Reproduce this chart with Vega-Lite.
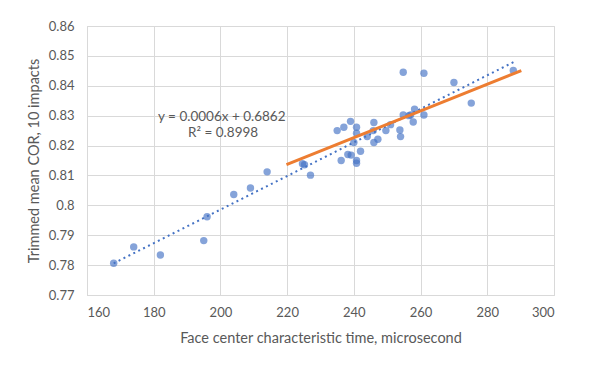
{
  "$schema": "https://vega.github.io/schema/vega-lite/v6.json",
  "width": 467,
  "height": 269,
  "autosize": {"type": "none"},
  "padding": {"left": 87, "top": 26, "right": 37, "bottom": 76},
  "background": "white",
  "config": {
    "font": "Lato",
    "view": {"stroke": "#d9d9d9", "strokeWidth": 1},
    "axis": {
      "labelFont": "Lato", "labelFontSize": 13, "labelColor": "#595959",
      "titleFont": "Lato", "titleFontSize": 14.5, "titleColor": "#595959", "titleFontWeight": "normal",
      "gridColor": "#d9d9d9", "gridWidth": 1, "domainColor": "#d9d9d9", "ticks": false
    }
  },
  "datasets": {
    "points": [
      {"time": 168.0, "cor": 0.7806}, {"time": 174.0, "cor": 0.7861}, {"time": 182.0, "cor": 0.7834},
      {"time": 195.0, "cor": 0.7882}, {"time": 196.0, "cor": 0.7962}, {"time": 204.0, "cor": 0.8036},
      {"time": 209.0, "cor": 0.8058}, {"time": 214.0, "cor": 0.8112}, {"time": 224.6, "cor": 0.8139},
      {"time": 225.2, "cor": 0.8136}, {"time": 227.0, "cor": 0.8101}, {"time": 235.0, "cor": 0.825},
      {"time": 236.2, "cor": 0.815}, {"time": 237.0, "cor": 0.8261}, {"time": 238.2, "cor": 0.817},
      {"time": 239.0, "cor": 0.8281}, {"time": 239.2, "cor": 0.8168}, {"time": 240.0, "cor": 0.821},
      {"time": 240.8, "cor": 0.8261}, {"time": 240.8, "cor": 0.8241}, {"time": 240.8, "cor": 0.815},
      {"time": 240.8, "cor": 0.8141}, {"time": 242.0, "cor": 0.8181}, {"time": 244.0, "cor": 0.823},
      {"time": 245.8, "cor": 0.825}, {"time": 246.0, "cor": 0.8277}, {"time": 246.0, "cor": 0.821},
      {"time": 247.2, "cor": 0.8221}, {"time": 249.6, "cor": 0.825}, {"time": 251.0, "cor": 0.827},
      {"time": 253.8, "cor": 0.8252}, {"time": 254.0, "cor": 0.823}, {"time": 254.8, "cor": 0.8445},
      {"time": 254.8, "cor": 0.8302}, {"time": 256.5, "cor": 0.83}, {"time": 257.0, "cor": 0.8302},
      {"time": 257.8, "cor": 0.8279}, {"time": 258.2, "cor": 0.8322}, {"time": 261.0, "cor": 0.8442},
      {"time": 261.0, "cor": 0.8302}, {"time": 270.0, "cor": 0.8411}, {"time": 275.2, "cor": 0.8342},
      {"time": 287.8, "cor": 0.8451}
    ],
    "trend": [{"time": 168.0, "cor": 0.7806}, {"time": 288.0, "cor": 0.848}],
    "fit": [{"time": 219.8, "cor": 0.8136}, {"time": 290.2, "cor": 0.8451}],
    "notes": [
      {"time": 200.4, "cor": 0.8297, "label": "y = 0.0006x + 0.6862"},
      {"time": 200.8, "cor": 0.8243, "label": "R² = 0.8998"}
    ]
  },
  "encoding": {
    "x": {
      "field": "time", "type": "quantitative",
      "scale": {"domain": [160, 300], "nice": false, "zero": false},
      "axis": {"values": [160, 180, 200, 220, 240, 260, 280, 300], "labelPadding": 11, "title": "Face center characteristic time, microsecond", "titlePadding": 12}
    },
    "y": {
      "field": "cor", "type": "quantitative",
      "scale": {"domain": [0.77, 0.86], "nice": false, "zero": false},
      "axis": {"values": [0.77, 0.78, 0.79, 0.8, 0.81, 0.82, 0.83, 0.84, 0.85, 0.86], "format": ".2~f", "labelPadding": 13, "title": "Trimmed mean COR, 10 impacts", "titlePadding": 7}
    }
  },
  "layer": [
    {
      "data": {"name": "points"},
      "mark": {"type": "circle", "size": 55, "color": "#4472C4", "opacity": 0.65}
    },
    {
      "data": {"name": "trend"},
      "mark": {"type": "line", "color": "#4472C4", "strokeWidth": 2, "strokeDash": [2, 3.5]}
    },
    {
      "data": {"name": "fit"},
      "mark": {"type": "line", "color": "#ED7D31", "strokeWidth": 3}
    },
    {
      "data": {"name": "notes"},
      "mark": {"type": "text", "font": "Lato", "fontSize": 13.5, "color": "#595959", "baseline": "middle", "align": "center"},
      "encoding": {"text": {"field": "label"}}
    }
  ]
}
